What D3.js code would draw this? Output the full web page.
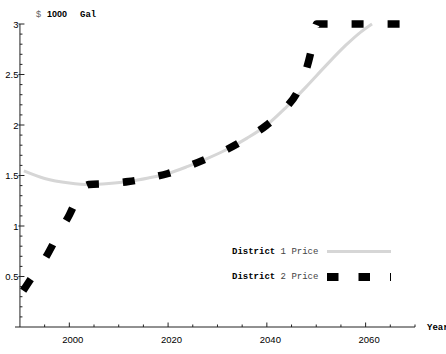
<!DOCTYPE html>
<html>
<head>
<meta charset="utf-8">
<script src="https://cdn.jsdelivr.net/npm/d3@7"></script>
<style>
  html, body { margin: 0; padding: 0; background: #fff; }
  svg { display: block; }
</style>
</head>
<body>
<script>
// ---- Data ----
const years1 = [1990.8, 1995, 2000, 2004, 2008, 2012, 2016, 2020, 2024, 2028, 2032, 2036, 2040, 2044, 2048, 2052, 2056, 2059, 2061.3];
const district1 = [1.545, 1.47, 1.425, 1.41, 1.42, 1.44, 1.475, 1.52, 1.59, 1.67, 1.76, 1.87, 2.00, 2.18, 2.38, 2.59, 2.79, 2.92, 3.0];
const years2 = [1990.65, 1992, 1995, 1998, 2000, 2002, 2003, 2004, 2008, 2012, 2016, 2020, 2024, 2028, 2032, 2036, 2040, 2044, 2046, 2048, 2049, 2050.1, 2060, 2070];
const district2 = [0.36, 0.46, 0.67, 0.94, 1.11, 1.31, 1.385, 1.41, 1.42, 1.44, 1.475, 1.52, 1.59, 1.67, 1.76, 1.87, 2.00, 2.18, 2.31, 2.55, 2.74, 3.0, 3.0, 3.0];
const xMajorTicks = [2000, 2020, 2040, 2060];
const yMajorTicks = [0.5, 1, 1.5, 2, 2.5, 3];
const yTickLabels = ["0.5", "1", "1.5", "2", "2.5", "3"];
const seriesNames = ["District 1 Price", "District 2 Price"];

(function () {
const W = 446, H = 354;
const svg = d3.select("body").append("svg").attr("width", W).attr("height", H);

const x = d3.scaleLinear().domain([1989, 2070]).range([15, 415]);
const y = d3.scaleLinear().domain([0, 3]).range([327, 24]);
const x0 = x(1990);

// axes lines
svg.append("line").attr("x1", 15).attr("x2", 415).attr("y1", y(0)).attr("y2", y(0))
  .attr("stroke", "#222").attr("stroke-width", 1);
svg.append("line").attr("x1", x0).attr("x2", x0).attr("y1", y(0)).attr("y2", y(3))
  .attr("stroke", "#222").attr("stroke-width", 1);

// x ticks (inside / upward)
const xMinor = d3.range(1990, 2071, 5).filter(v => !xMajorTicks.includes(v) && v !== 1990);
svg.selectAll(".xmin").data(xMinor).enter().append("line")
  .attr("x1", d => x(d)).attr("x2", d => x(d)).attr("y1", y(0)).attr("y2", y(0) - 2.5)
  .attr("stroke", "#222");
svg.selectAll(".xmaj").data(xMajorTicks).enter().append("line")
  .attr("x1", d => x(d)).attr("x2", d => x(d)).attr("y1", y(0)).attr("y2", y(0) - 4.5)
  .attr("stroke", "#222");
svg.selectAll(".xlab").data(xMajorTicks).enter().append("text")
  .attr("x", d => x(d) + 3.5).attr("y", 343).attr("text-anchor", "middle")
  .attr("font-family", "Liberation Sans, Arial, sans-serif").attr("font-size", 9.5)
  .attr("fill", "#000").text(d => d);

// y ticks
const yMinor = d3.range(1, 31).map(v => v / 10).filter(v => Math.abs(v * 2 - Math.round(v * 2)) > 1e-6);
svg.selectAll(".ymin").data(yMinor).enter().append("line")
  .attr("x1", x0).attr("x2", x0 + 2.5).attr("y1", d => y(d)).attr("y2", d => y(d))
  .attr("stroke", "#222");
svg.selectAll(".ymaj").data(yMajorTicks).enter().append("line")
  .attr("x1", x0 - 1.5).attr("x2", x0 + 4.5).attr("y1", d => y(d)).attr("y2", d => y(d))
  .attr("stroke", "#222");
svg.selectAll(".ylab").data(yMajorTicks).enter().append("text")
  .attr("x", x0 - 1.5).attr("y", d => y(d) + 3.5).attr("text-anchor", "end")
  .attr("font-family", "Liberation Sans, Arial, sans-serif").attr("font-size", 9.5)
  .attr("fill", "#000").text((d, i) => yTickLabels[i]);

// axis labels
const topLabel = svg.append("text").attr("y", 17)
  .attr("font-size", 9).attr("fill", "#000");
topLabel.append("tspan").attr("x", 36).attr("font-family", "Liberation Sans, Arial, sans-serif").attr("fill", "#666").text("$");
topLabel.append("tspan").attr("x", 47).attr("font-family", "Liberation Sans, Arial, sans-serif").attr("font-weight", "bold").text("1000");
topLabel.append("tspan").attr("x", 80).attr("font-family", "Liberation Mono, Courier New, monospace").attr("font-weight", "bold").text("Gal");
svg.append("text").attr("x", 427).attr("y", 330)
  .attr("font-family", "Liberation Mono, Courier New, monospace").attr("font-weight", "bold")
  .attr("font-size", 9).attr("fill", "#000").text("Year");

// lines
const line = d3.line().x(d => x(d[0])).y(d => y(d[1])).curve(d3.curveMonotoneX);
const d1 = years1.map((v, i) => [v, district1[i]]);
const d2 = years2.map((v, i) => [v, district2[i]]);

svg.append("path").attr("d", line(d1)).attr("fill", "none")
  .attr("stroke", "#d6d6d6").attr("stroke-width", 3);
const p2 = svg.append("path").attr("d", line(d2)).attr("fill", "none")
  .attr("stroke", "#000").attr("stroke-width", 7.5).attr("stroke-linecap", "butt");

// dashing measured in a vertically compressed space (as in the original renderer)
const node = p2.node();
const L = node.getTotalLength();
const vScale = 0.82, period = 36, dashLen = 12;
const ss = [0], ws = [0];
let prev = node.getPointAtLength(0), acc = 0;
for (let s = 0.25; s <= L; s += 0.25) {
  const p = node.getPointAtLength(s);
  acc += Math.hypot(p.x - prev.x, vScale * (p.y - prev.y));
  ss.push(s); ws.push(acc); prev = p;
}
const wToS = d3.scaleLinear().domain(ws).range(ss);
const bounds = [];
for (let w = 0; w < acc + period; w += period) { bounds.push(w, w + dashLen); }
const sb = bounds.map(w => w >= acc ? L + (w - acc) : wToS(w));
const dashArr = [];
for (let i = 0; i < sb.length - 1; i++) dashArr.push(Math.max(0.01, sb[i + 1] - sb[i]).toFixed(2));
p2.attr("stroke-dasharray", dashArr.join(","));

// legend
const legY = [251.5, 277];
seriesNames.forEach((name, i) => {
  const parts = name.split(" ");
  const t = svg.append("text").attr("x", 232).attr("y", legY[i] + 2)
    .attr("font-family", "Liberation Mono, Courier New, monospace").attr("font-size", 9);
  t.append("tspan").attr("font-weight", "bold").attr("fill", "#000").text(parts[0]);
  t.append("tspan").attr("fill", "#444").text(" " + parts.slice(1).join(" "));
});
svg.append("line").attr("x1", 327).attr("x2", 391).attr("y1", legY[0]).attr("y2", legY[0])
  .attr("stroke", "#d6d6d6").attr("stroke-width", 3);
svg.append("line").attr("x1", 327).attr("x2", 391).attr("y1", legY[1]).attr("y2", legY[1])
  .attr("stroke", "#000").attr("stroke-width", 8).attr("stroke-dasharray", "11.5,20");
})();
</script>
</body>
</html>
